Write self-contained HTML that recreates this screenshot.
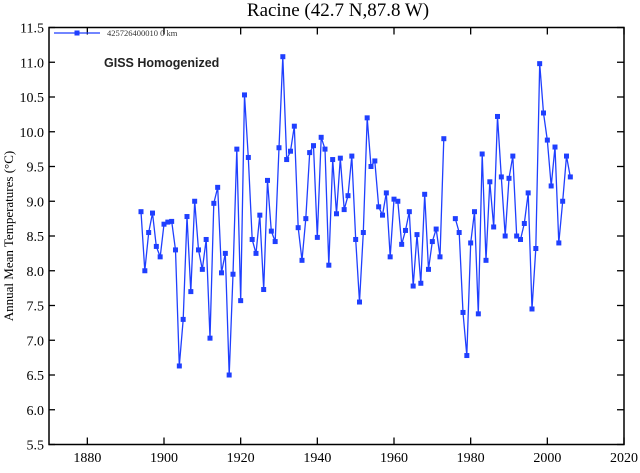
<!DOCTYPE html>
<html><head><meta charset="utf-8"><style>
html,body{margin:0;padding:0;background:#fff;}
svg{display:block;}
</style></head><body>
<svg id="chart" width="640" height="473" viewBox="0 0 640 473" xmlns="http://www.w3.org/2000/svg">
<text x="338" y="16" text-anchor="middle" font-family="Liberation Serif, serif" font-size="19">Racine (42.7 N,87.8 W)</text>
<text transform="translate(13,236) rotate(-90)" text-anchor="middle" font-family="Liberation Serif, serif" font-size="13">Annual Mean Temperatures (°C)</text>
<rect x="49" y="27.5" width="575" height="417" fill="none" stroke="#000" stroke-width="1.5"/>
<g id="ticks"></g>
<g id="series"></g>
<g>
<line x1="54" y1="33" x2="100" y2="33" stroke="#1f3fff" stroke-width="1.3"/>
<rect x="74.5" y="30.5" width="5" height="5" fill="#1f3fff"/>
<text x="107" y="36" font-family="Liberation Serif, serif" font-size="8.5" fill="#333">425726400010  0 km</text>
</g>
<text x="104" y="67" font-family="Liberation Sans, sans-serif" font-size="12.5" font-weight="bold" fill="#222">GISS Homogenized</text>
</svg>
<script>
const years1 = [1894,1895,1896,1897,1898,1899,1900,1901,1902,1903,1904,1905,1906,1907,1908,1909,1910,1911,1912,1913,1914,1915,1916,1917,1918,1919,1920,1921,1922,1923,1924,1925,1926,1927,1928,1929,1930,1931,1932,1933,1934,1935,1936,1937,1938,1939,1940,1941,1942,1943,1944,1945,1946,1947,1948,1949,1950,1951,1952,1953,1954,1955,1956,1957,1958,1959,1960,1961,1962,1963,1964,1965,1966,1967,1968,1969,1970,1971,1972,1973];
const temps1 = [8.85,8.0,8.55,8.83,8.35,8.2,8.67,8.7,8.71,8.3,6.63,7.3,8.78,7.7,9.0,8.3,8.02,8.45,7.03,8.97,9.2,7.97,8.25,6.5,7.95,9.75,7.57,10.53,9.63,8.45,8.25,8.8,7.73,9.3,8.57,8.42,9.77,11.08,9.6,9.72,10.08,8.62,8.15,8.75,9.7,9.8,8.48,9.92,9.75,8.08,9.6,8.82,9.62,8.88,9.08,9.65,8.45,7.55,8.55,10.2,9.5,9.58,8.92,8.8,9.12,8.2,9.03,9.0,8.38,8.58,8.85,7.78,8.52,7.82,9.1,8.02,8.42,8.6,8.2,9.9];
const years2 = [1976,1977,1978,1979,1980,1981,1982,1983,1984,1985,1986,1987,1988,1989,1990,1991,1992,1993,1994,1995,1996,1997,1998,1999,2000,2001,2002,2003,2004,2005,2006];
const temps2 = [8.75,8.55,7.4,6.78,8.4,8.85,7.38,9.68,8.15,9.28,8.63,10.22,9.35,8.5,9.33,9.65,8.5,8.45,8.68,9.12,7.45,8.32,10.98,10.27,9.88,9.22,9.78,8.4,9.0,9.65,9.35];
const xTicks = [1880,1900,1920,1940,1960,1980,2000,2020];
const yTicks = [5.5,6.0,6.5,7.0,7.5,8.0,8.5,9.0,9.5,10.0,10.5,11.0,11.5];

const NS='http://www.w3.org/2000/svg';
const X0=49,X1=624,Y0=444.5,Y1=27.5;
const xScale=y=>X0+(y-1870)/(2020-1870)*(X1-X0);
const yScale=v=>Y0-(v-5.5)/(11.5-5.5)*(Y0-Y1);
function mk(tag,attrs){const e=document.createElementNS(NS,tag);for(const k in attrs)e.setAttribute(k,attrs[k]);return e;}
const tg=document.getElementById('ticks');
xTicks.forEach(t=>{
  const x=xScale(t);
  const a=mk('line',{x1:x,x2:x,y1:Y0,y2:Y0-7,stroke:'#000','stroke-width':1.3});
  
  
  tg.appendChild(a);
  const b=mk('line',{x1:x,x2:x,y1:Y1,y2:Y1+7,stroke:'#000','stroke-width':1.3});
  
  
  tg.appendChild(b);
  const l=mk('text',{x:x,y:462,'text-anchor':'middle','font-family':'Liberation Serif, serif','font-size':14});
  l.textContent=t;
  
  
  tg.appendChild(l);
});
yTicks.forEach(t=>{
  const y=yScale(t);
  const a=mk('line',{x1:X0,x2:X0+6,y1:y,y2:y,stroke:'#000','stroke-width':1.3});
  
  
  tg.appendChild(a);
  const b=mk('line',{x1:X1,x2:X1-7,y1:y,y2:y,stroke:'#000','stroke-width':1.3});
  
  
  tg.appendChild(b);
  const l=mk('text',{x:44,y:y+5,'text-anchor':'end','font-family':'Liberation Serif, serif','font-size':14});
  l.textContent=t.toFixed(1);
  
  
  tg.appendChild(l);
});
const sg=document.getElementById('series');
[[years1,temps1],[years2,temps2]].forEach(([ys,vs])=>{
  const pts=ys.map((y,i)=>xScale(y).toFixed(1)+','+yScale(vs[i]).toFixed(1)).join(' ');
  const pl=mk('polyline',{points:pts,fill:'none',stroke:'#1f3fff','stroke-width':1.3});
  
  
  sg.appendChild(pl);
  ys.forEach((y,i)=>{
    const r=mk('rect',{x:xScale(y)-2.5,y:yScale(vs[i])-2.5,width:5,height:5,fill:'#1f3fff'});
    
    
    sg.appendChild(r);
  });
});
</script>
</body></html>
